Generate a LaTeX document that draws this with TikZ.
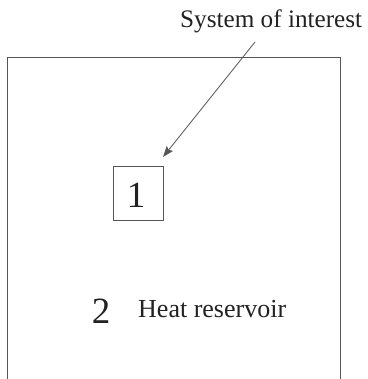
\documentclass[tikz,border=0pt]{standalone}
\usepackage{fontspec}
\setmainfont{Liberation Serif}
\usetikzlibrary{arrows.meta}
\definecolor{ln}{HTML}{555555}
\definecolor{tx}{HTML}{222222}
\begin{document}
\begin{tikzpicture}[x=1pt,y=-1pt,
  lbl/.style={text=tx,inner sep=0pt,anchor=base west},
  digit/.style={text=tx,inner sep=0pt,anchor=base,font=\fontsize{37}{40}\selectfont},
  frame/.style={draw=ln,line width=0.8pt}]
\useasboundingbox (0,0) rectangle (367,379);
% big reservoir box (open at bottom, beyond the picture)
\draw[frame] (7.5,390) -- (7.5,57) -- (340,57) -- (340,390);
% small system box
\node[frame,minimum width=50pt,minimum height=54pt,inner sep=0pt] (sys) at (138,193) {};
\node[digit] (one) at (136,207) {1};
\node[digit] (two) at (101,323) {2};
\node[lbl,font=\fontsize{26}{28}\selectfont] (heat) at (138,317) {Heat reservoir};
\node[lbl,font=\fontsize{25.2}{28}\selectfont] (soi) at (180,28) {System of interest};
\coordinate (from) at (255,42);
\coordinate (tip) at (163,157);
\draw[ln,line width=0.8pt,-{Stealth[length=11pt,width=8pt,inset=2pt]}] (from) -- (tip);
\end{tikzpicture}
\end{document}
